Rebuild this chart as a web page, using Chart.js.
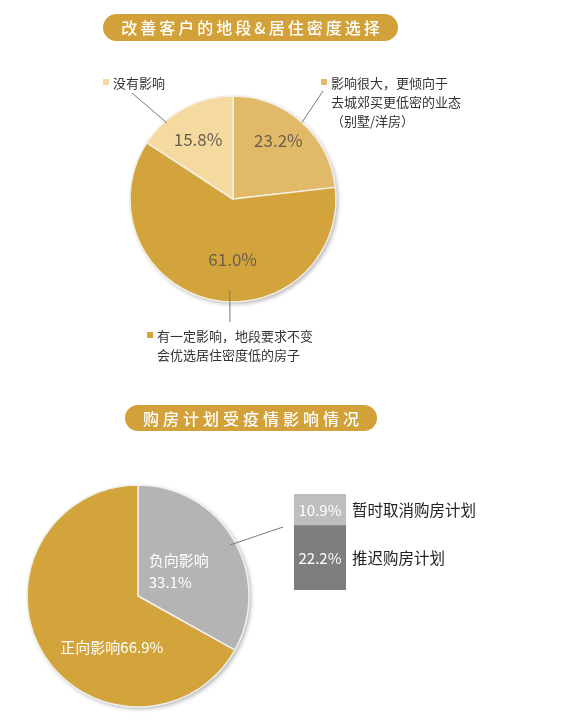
<!DOCTYPE html>
<html>
<head>
<meta charset="utf-8">
<script src="https://cdn.jsdelivr.net/npm/chart.js@4.4.1/dist/chart.umd.min.js"></script>
<style>
	body{margin:0;background:#fff;width:576px;height:728px;position:relative;overflow:hidden;font-family:"Noto Sans CJK SC","Noto Sans",sans-serif;}
	canvas{position:absolute;left:0;top:0;}
	.banner{position:absolute;background:#D2A13A;color:#fff;text-align:center;font-size:16px;font-weight:500;z-index:2;}
	.note{position:absolute;font-size:13px;line-height:19px;color:#333;white-space:nowrap;z-index:2;}
	.note i{position:absolute;left:-10px;top:6px;width:6px;height:6px;}
</style>
</head>
<body>
<div class="banner" style="left:103px;top:14px;width:295px;height:27px;line-height:27px;border-radius:14px;letter-spacing:3px;padding-left:3px;box-sizing:border-box;">改善客户的地段&amp;居住密度选择</div>
<div class="banner" style="left:125px;top:405px;width:252px;height:26px;line-height:26px;border-radius:13px;letter-spacing:4px;padding-left:4px;box-sizing:border-box;">购房计划受疫情影响情况</div>

<div class="note" style="left:113px;top:73px;"><i style="background:#F5DA9F"></i>没有影响</div>
<div class="note" style="left:331px;top:73px;"><i style="background:#E0B969"></i>影响很大，更倾向于<br>去城郊买更低密的业态<br>（别墅/洋房）</div>
<div class="note" style="left:157px;top:326px;"><i style="background:#D3A43B"></i>有一定影响，地段要求不变<br>会优选居住密度低的房子</div>

<canvas id="topPie" width="576" height="728"></canvas>
<canvas id="bottomPie" width="576" height="728"></canvas>
<canvas id="planBar" width="576" height="728"></canvas>

<script>
// 改善客户的地段&居住密度选择 (从顶部顺时针)
const choiceLabels = ['影响很大，更倾向于去城郊买更低密的业态（别墅/洋房）', '有一定影响，地段要求不变会优选居住密度低的房子', '没有影响'];
const choiceValues = [23.2, 61.0, 15.8];

// 购房计划受疫情影响情况
const effectLabels = ['负向影响', '正向影响'];
const effectValues = [33.1, 66.9];

// 负向影响 细分
const delayLabels = ['暂时取消购房计划', '推迟购房计划'];
const delayValues = [10.9, 22.2];

const pct = (v) => v.toFixed(1) + '%';

// 饼图 标签 + 引线 + 阴影
function slicePlugin(cfg){
	return {
		id: 'sliceText',
		beforeDatasetsDraw(chart){
			const arc = chart.getDatasetMeta(0).data[0];
			const ctx = chart.ctx;
			ctx.save();
			ctx.shadowColor = 'rgba(0,0,0,0.3)';
			ctx.shadowBlur = 4;
			ctx.shadowOffsetX = 2;
			ctx.shadowOffsetY = 2;
			ctx.fillStyle = '#fff';
			ctx.beginPath();
			ctx.arc(arc.x, arc.y, arc.outerRadius, 0, Math.PI * 2);
			ctx.fill();
			ctx.restore();
		},
		afterDatasetsDraw(chart){
			const ctx = chart.ctx;
			const meta = chart.getDatasetMeta(0);
			const values = chart.data.datasets[0].data;
			ctx.save();
			ctx.strokeStyle = '#777';
			ctx.lineWidth = 1;
			cfg.leaders.forEach((l) => {
				const arc = meta.data[l.index];
				const a = (l.angle - 90) * Math.PI / 180;
				ctx.beginPath();
				ctx.moveTo(arc.x + Math.cos(a) * arc.outerRadius * l.frac, arc.y + Math.sin(a) * arc.outerRadius * l.frac);
				ctx.lineTo(l.to[0], l.to[1]);
				ctx.stroke();
			});
			ctx.font = cfg.font;
			ctx.fillStyle = cfg.color;
			ctx.textBaseline = 'middle';
			meta.data.forEach((arc, i) => {
				const mid = (arc.startAngle + arc.endAngle) / 2 + cfg.shift[i] * Math.PI / 180;
				const d = arc.outerRadius * cfg.frac[i];
				const cx = arc.x + Math.cos(mid) * d;
				const cy = arc.y + Math.sin(mid) * d;
				const lines = cfg.lines(i, values[i]);
				const w = Math.max(...lines.map(t => ctx.measureText(t).width));
				lines.forEach((t, k) => {
					const y = cy + (k - (lines.length - 1) / 2) * cfg.lineHeight;
					if(cfg.align == 'left'){
						ctx.textAlign = 'left';
						ctx.fillText(t, cx - w / 2, y);
					}else{
						ctx.textAlign = 'center';
						ctx.fillText(t, cx, y);
					}
				});
			});
			ctx.restore();
		}
	};
}

new Chart(document.getElementById('topPie'), {
	type: 'pie',
	data: {
		labels: choiceLabels,
		datasets: [{
			data: choiceValues,
			backgroundColor: ['#E0B969', '#D3A43B', '#F5DA9F'],
			borderColor: '#f3efe6',
			borderWidth: 1.5,
			radius: 103
		}]
	},
	options: {
		responsive: false,
		animation: false,
		events: [],
		layout: { padding: { left: 130, right: 240, top: 96, bottom: 426 } },
		plugins: { legend: { display: false }, tooltip: { enabled: false } }
	},
	plugins: [slicePlugin({
		font: '17px "Noto Sans CJK SC", "Noto Sans", sans-serif',
		color: '#6b5f4c',
		lineHeight: 20,
		align: 'center',
		shift: [-4, -13, -2],
		frac: [0.72, 0.59, 0.67],
		lines: (i, v) => [pct(v)],
		leaders: [
			{ index: 0, angle: 42, frac: 1.0, to: [323, 91] },
			{ index: 1, angle: 182, frac: 0.89, to: [230, 322] },
			{ index: 2, angle: 319, frac: 0.98, to: [132, 93] }
		]
	})]
});

new Chart(document.getElementById('bottomPie'), {
	type: 'pie',
	data: {
		labels: effectLabels,
		datasets: [{
			data: effectValues,
			backgroundColor: ['#B4B4B4', '#D2A43B'],
			borderColor: '#f0f0f0',
			borderWidth: 1.5,
			radius: 111
		}]
	},
	options: {
		responsive: false,
		animation: false,
		events: [],
		layout: { padding: { left: 27, right: 327, top: 485, bottom: 21 } },
		plugins: { legend: { display: false }, tooltip: { enabled: false } }
	},
	plugins: [slicePlugin({
		font: '15px "Noto Sans CJK SC", "Noto Sans", sans-serif',
		color: '#fff',
		lineHeight: 22,
		align: 'left',
		shift: [-1, -32.6],
		frac: [0.43, 0.52],
		lines: (i, v) => i == 0 ? [effectLabels[i], pct(v)] : [effectLabels[i] + pct(v)],
		leaders: [
			{ index: 0, angle: 61, frac: 0.95, to: [283, 527] }
		]
	})]
});

// 堆叠柱: 数值 + 右侧名称
const barText = {
	id: 'barText',
	afterDatasetsDraw(chart){
		const ctx = chart.ctx;
		ctx.save();
		ctx.textBaseline = 'middle';
		chart.data.datasets.forEach((ds, i) => {
			const bar = chart.getDatasetMeta(i).data[0];
			const cy = (bar.y + bar.base) / 2;
			ctx.font = '15px "Noto Sans CJK SC", "Noto Sans", sans-serif';
			ctx.fillStyle = '#fff';
			ctx.textAlign = 'center';
			ctx.fillText(pct(ds.data[0]), bar.x, cy);
			ctx.font = '15.5px "Noto Sans CJK SC", sans-serif';
			ctx.fillStyle = '#222';
			ctx.textAlign = 'left';
			ctx.fillText(ds.label, bar.x + bar.width / 2 + 6, cy);
		});
		ctx.restore();
	}
};

new Chart(document.getElementById('planBar'), {
	type: 'bar',
	data: {
		labels: ['负向影响'],
		datasets: [
			{ label: delayLabels[1], data: [delayValues[1]], backgroundColor: '#7E7E7E' },
			{ label: delayLabels[0], data: [delayValues[0]], backgroundColor: '#BEBEBE' }
		]
	},
	options: {
		responsive: false,
		animation: false,
		events: [],
		barPercentage: 1,
		categoryPercentage: 1,
		layout: { padding: { left: 294, right: 230, top: 494, bottom: 138 } },
		scales: {
			x: { stacked: true, display: false },
			y: { stacked: true, display: false, min: 0, max: delayValues[0] + delayValues[1] }
		},
		plugins: { legend: { display: false }, tooltip: { enabled: false } }
	},
	plugins: [barText]
});
</script>
</body>
</html>
